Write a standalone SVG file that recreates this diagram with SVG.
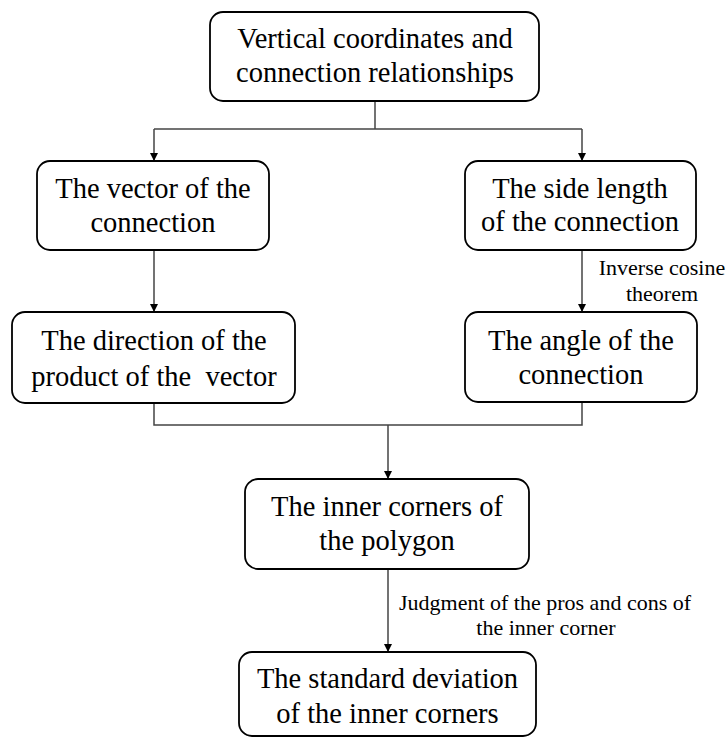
<svg xmlns="http://www.w3.org/2000/svg" width="727" height="738" viewBox="0 0 727 738">
<style>
.box{fill:#fff;stroke:#000;stroke-width:1.8}
.t{font-family:"Liberation Serif","Times New Roman",serif;font-size:28.5px;fill:#000;text-anchor:middle}
.lbl{font-family:"Liberation Serif","Times New Roman",serif;font-size:22px;fill:#000;text-anchor:middle}
.ln{fill:none;stroke:#444;stroke-width:1.5}
</style>
<defs>
<marker id="arr" viewBox="0 0 10 10" refX="10" refY="5" markerWidth="8" markerHeight="8" markerUnits="userSpaceOnUse" orient="auto">
<path d="M0,0 L10,5 L0,10 z" fill="#000"/>
</marker>
</defs>
<rect width="727" height="738" fill="#fff"/>
<g id="connectors">
<polyline class="ln" points="375,101 375,129"/>
<polyline class="ln" points="154,129 582,129"/>
<polyline class="ln" points="154,129 154,161" marker-end="url(#arr)"/>
<polyline class="ln" points="582,129 582,161" marker-end="url(#arr)"/>
<polyline class="ln" points="154,250 154,312" marker-end="url(#arr)"/>
<polyline class="ln" points="582,250 582,312" marker-end="url(#arr)"/>
<polyline class="ln" points="154,403 154,425 582,425 582,402"/>
<polyline class="ln" points="388,425 388,479" marker-end="url(#arr)"/>
<polyline class="ln" points="388,569 388,652" marker-end="url(#arr)"/>
<text class="lbl" x="662" y="275">Inverse cosine</text>
<text class="lbl" x="662" y="301">theorem</text>
<text class="lbl" x="545" y="610">Judgment of the pros and cons of</text>
<text class="lbl" x="546" y="635">the inner corner</text>
</g>
<g id="n_top">
<rect class="box" x="210" y="12" width="329" height="89" rx="13"/>
<text class="t" x="375" y="48">Vertical coordinates and</text>
<text class="t" x="375" y="82">connection relationships</text>
</g>
<g id="n_vector">
<rect class="box" x="37" y="161" width="232" height="89" rx="13"/>
<text class="t" x="153" y="198">The vector of the</text>
<text class="t" x="153" y="232">connection</text>
</g>
<g id="n_side">
<rect class="box" x="465" y="161" width="231" height="89" rx="13"/>
<text class="t" x="580" y="198">The side length</text>
<text class="t" x="580" y="231">of the connection</text>
</g>
<g id="n_direction">
<rect class="box" x="12" y="312" width="283" height="91" rx="13"/>
<text class="t" x="154" y="350">The direction of the</text>
<text class="t" x="154" y="386">product of the&#160; vector</text>
</g>
<g id="n_angle">
<rect class="box" x="465" y="312" width="232" height="90" rx="13"/>
<text class="t" x="581" y="350">The angle of the</text>
<text class="t" x="581" y="384">connection</text>
</g>
<g id="n_inner">
<rect class="box" x="245" y="479" width="284" height="90" rx="13"/>
<text class="t" x="387" y="516">The inner corners of</text>
<text class="t" x="387" y="550">the polygon</text>
</g>
<g id="n_std">
<rect class="box" x="239" y="652" width="297" height="84" rx="13"/>
<text class="t" x="387.5" y="688">The standard deviation</text>
<text class="t" x="387.5" y="723">of the inner corners</text>
</g>
</svg>
